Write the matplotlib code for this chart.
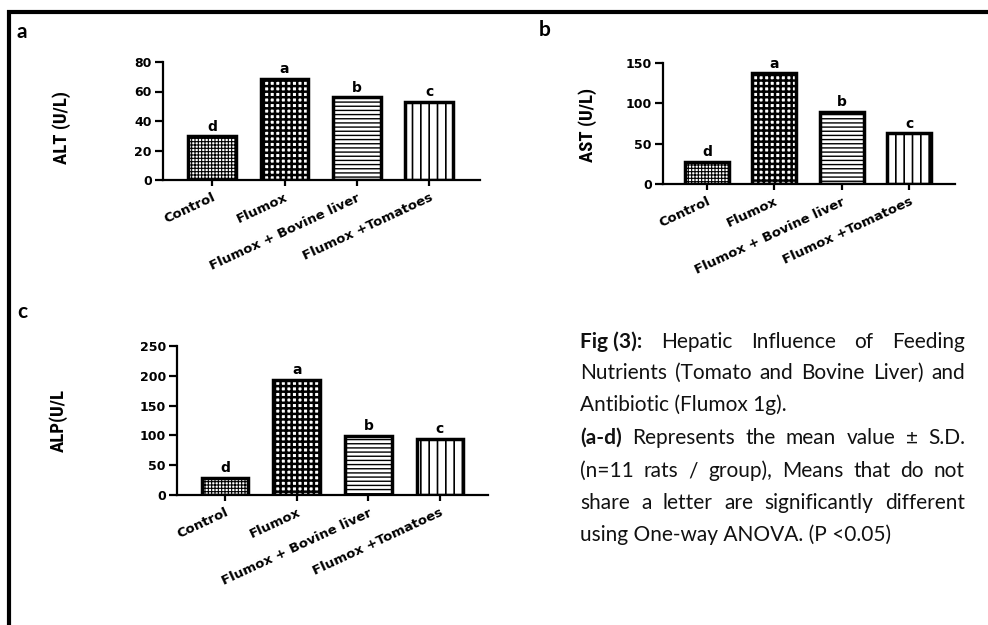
import matplotlib
matplotlib.use("Agg")
import matplotlib.pyplot as plt
from matplotlib.lines import Line2D

# ---------------- data ----------------
groups = ["Control", "Flumox", "Flumox + Bovine liver", "Flumox +Tomatoes"]
alt_vals = [29.5, 68.5, 56.0, 52.7]
ast_vals = [27.5, 137.0, 89.5, 62.8]
alp_vals = [29.0, 193.0, 99.0, 94.5]
letters = ["d", "a", "b", "c"]

alt_ticks = [0, 20, 40, 60, 80]
ast_ticks = [0, 50, 100, 150]
alp_ticks = [0, 50, 100, 150, 200, 250]

hatches = ["+++++", "+++", "----", "||"]
hatch_lws = [0.8, 1.8, 1.0, 1.2]

W, H = 988, 625
plt.rcParams["hatch.linewidth"] = 1.2

fig = plt.figure(figsize=(W / 100, H / 100), dpi=100)

TICK_FONT = dict(family="DejaVu Sans", weight="bold", size=9)
XTICK_FONT = dict(family="DejaVu Sans", weight="bold", size=9.5)
LETTER_FONT = dict(family="DejaVu Sans", weight="bold", size=10)
YLAB_FONT = dict(family=["Roboto Condensed", "Liberation Sans Narrow", "Roboto", "DejaVu Sans"],
                 weight="black", size=13.5)
PANEL_FONT = dict(family="Lato", weight="bold", size=15)


def px_rect(x0, y0, x1, y1):
    # pixel box (top-left origin) -> figure fraction rect
    return [x0 / W, 1 - y1 / H, (x1 - x0) / W, (y1 - y0) / H]


def panel(rect, vals, ticks, xlim, width, ylab, ylab_xy):
    ax = fig.add_axes(rect)
    x = range(len(vals))
    bars = ax.bar(x, vals, width=width, color="white", edgecolor="black",
                  linewidth=2.5, zorder=2)
    for b, h, lw in zip(bars, hatches, hatch_lws):
        b.set_hatch(h)
        if hasattr(b, "set_hatch_linewidth"):
            b.set_hatch_linewidth(lw)
    for xi, v, l in zip(x, vals, letters):
        ax.annotate(l, (xi, v), xytext=(0, 2), textcoords="offset points",
                    ha="center", va="bottom", **LETTER_FONT)
    ax.set_xlim(*xlim)
    ax.set_ylim(0, ticks[-1])
    ax.set_yticks(ticks)
    ax.set_xticks(list(x))
    ax.set_yticklabels([str(t) for t in ticks], **TICK_FONT)
    ax.set_xticklabels(groups, rotation=25, ha="right", rotation_mode="anchor",
                       **XTICK_FONT)
    for s in ["top", "right"]:
        ax.spines[s].set_visible(False)
    for s in ["left", "bottom"]:
        ax.spines[s].set_linewidth(1.6)
    ax.tick_params(axis="y", length=6, width=1.6, pad=2)
    ax.tick_params(axis="x", length=4, width=1.6, pad=4)
    fig.text(ylab_xy[0] / W, 1 - ylab_xy[1] / H, ylab, rotation=90,
             ha="center", va="center", **YLAB_FONT)
    return ax


panel(px_rect(163, 62, 480, 180), alt_vals, alt_ticks, (-0.68, 3.70), 0.66,
      "ALT (U/L)", (62, 127))
panel(px_rect(663, 63, 955, 184), ast_vals, ast_ticks, (-0.65, 3.68), 0.65,
      "AST (U/L)", (588, 125))
panel(px_rect(177, 346, 488, 495), alp_vals, alp_ticks, (-0.67, 3.67), 0.65,
      "ALP(U/L", (58, 420))

fig.text(22 / W, 1 - 32 / H, "a", ha="center", va="center", **PANEL_FONT)
fig.text(545 / W, 1 - 30 / H, "b", ha="center", va="center", **PANEL_FONT)
fig.text(22 / W, 1 - 312 / H, "c", ha="center", va="center", **PANEL_FONT)

# frame lines (top and left)
fig.add_artist(Line2D([7 / W, 1], [1 - 11.5 / H] * 2, color="black", lw=3,
                      transform=fig.transFigure, solid_capstyle="butt"))
fig.add_artist(Line2D([9 / W] * 2, [0, 1 - 10 / H], color="black", lw=3,
                      transform=fig.transFigure, solid_capstyle="butt"))

# ---------------- caption (justified) ----------------
cap_lines = [
    ([("Fig (3):", "bold"), ("Hepatic", "normal"), ("Influence", "normal"),
      ("of", "normal"), ("Feeding", "normal")], True),
    ([("Nutrients", "normal"), ("(Tomato", "normal"), ("and", "normal"),
      ("Bovine", "normal"), ("Liver)", "normal"), ("and", "normal")], True),
    ([("Antibiotic (Flumox 1g).", "normal")], False),
    ([("(a-d)", "bold"), ("Represents", "normal"), ("the", "normal"),
      ("mean", "normal"), ("value", "normal"), ("±", "normal"), ("S.D.", "normal")], True),
    ([("(n=11", "normal"), ("rats", "normal"), ("/", "normal"), ("group),", "normal"),
      ("Means", "normal"), ("that", "normal"), ("do", "normal"), ("not", "normal")], True),
    ([("share", "normal"), ("a", "normal"), ("letter", "normal"), ("are", "normal"),
      ("significantly", "normal"), ("different", "normal")], True),
    ([("using One-way ANOVA. (P <0.05)", "normal")], False),
]
cap_y = [342, 373, 405, 438, 471, 503, 535]
cap_x0, cap_x1 = 580, 965

renderer = fig.canvas.get_renderer()
for (words, just), y in zip(cap_lines, cap_y):
    texts = [fig.text(0, 1 - y / H, w, family="Lato", weight=wt, size=15,
                      ha="left", va="center", color="#111111") for w, wt in words]
    widths = [t.get_window_extent(renderer).width for t in texts]
    if just and len(texts) > 1:
        gap = (cap_x1 - cap_x0 - sum(widths)) / (len(texts) - 1)
    else:
        gap = 0
    xp = cap_x0
    for t, w in zip(texts, widths):
        t.set_x(xp / W)
        xp += w + gap

fig.savefig("out.png", dpi=100)
